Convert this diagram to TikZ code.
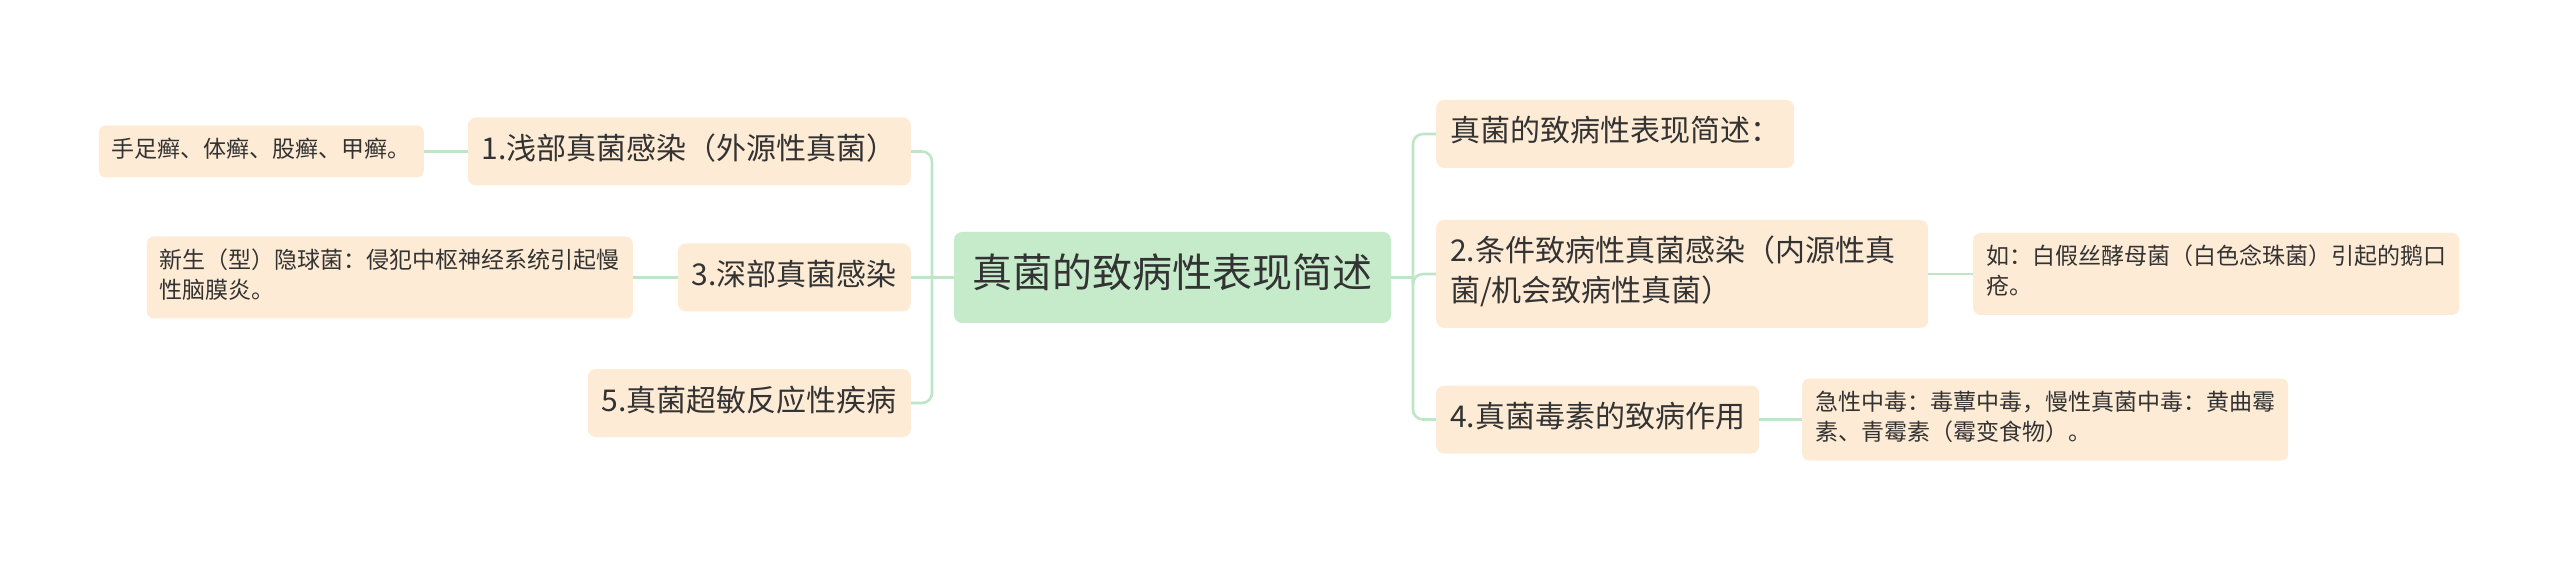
\documentclass[tikz,border=0pt]{standalone}
\usepackage{fontspec}
\setmainfont{Noto Sans CJK SC}
\definecolor{boxfill}{HTML}{FDEBD5}
\definecolor{rootfill}{HTML}{C6EBCB}
\definecolor{linecol}{HTML}{BEE6C6}
\definecolor{txt}{HTML}{333333}
\tikzset{
  rootbox/.style={fill=rootfill, rounded corners=8pt, inner xsep=18.5pt, inner ysep=19.5pt,
    font=\fontsize{40}{52}\selectfont, text=txt},
  midbox/.style={fill=boxfill, rounded corners=8pt, inner xsep=14pt, inner ysep=14pt,
    font=\fontsize{30}{40}\selectfont, text=txt, align=left},
  leafbox/.style={fill=boxfill, rounded corners=7pt, inner xsep=13pt, inner ysep=11pt,
    font=\fontsize{23}{30}\selectfont, text=txt, align=left},
  conn/.style={draw=linecol, line width=2.6pt, rounded corners=10pt}
}
\begin{document}
\begin{tikzpicture}[x=1pt,y=-1pt]
\useasboundingbox (0,0) rectangle (2560,561);
\node[rootbox] (root) at (1172.5,277.5) {\strut 真菌的致病性表现简述};
% left side
\node[midbox, anchor=east] (n1) at (911,151.5) {\strut 1.浅部真菌感染（外源性真菌）};
\node[midbox, anchor=east] (n3) at (911,277.5) {\strut 3.深部真菌感染};
\node[midbox, anchor=east] (n5) at (911,403) {\strut 5.真菌超敏反应性疾病};
\node[leafbox, anchor=east] (l1) at (424,151.5) {\strut 手足癣、体癣、股癣、甲癣。};
\node[leafbox, anchor=east] (l3) at (633,277.5) {\strut 新生（型）隐球菌：侵犯中枢神经系统引起慢\\\strut 性脑膜炎。};
% right side
\node[midbox, anchor=west] (r0) at (1436,134) {\strut 真菌的致病性表现简述：};
\node[midbox, anchor=west, text width=464pt] (r2) at (1436,274) {\strut 2.条件致病性真菌感染（内源性真\\\strut 菌/机会致病性真菌）};
\node[midbox, anchor=west] (r4) at (1436,419.5) {\strut 4.真菌毒素的致病作用};
\node[leafbox, anchor=west] (rl2) at (1973,274) {\strut 如：白假丝酵母菌（白色念珠菌）引起的鹅口\\\strut 疮。};
\node[leafbox, anchor=west] (rl4) at (1802,419.5) {\strut 急性中毒：毒蕈中毒，慢性真菌中毒：黄曲霉\\\strut 素、青霉素（霉变食物）。};
% trunks
\coordinate (lt) at (932,277.5);
\coordinate (rt) at (1413,277.5);
\draw[conn] (lt) -- (root.west);
\draw[conn] (root.east) -- (rt);
\draw[conn] (n1.east) -| (lt);
\draw[conn] (n3.east) -- (lt);
\draw[conn] (n5.east) -| (lt);
\draw[conn] (r0.west) -| (rt);
\draw[conn] (r2.west) -| (rt);
\draw[conn] (r4.west) -| (rt);
% leaves
\draw[conn] (l1.east) -- (n1.west);
\draw[conn] (l3.east) -- (n3.west);
\draw[conn] (r2.east) -- (rl2.west);
\draw[conn] (r4.east) -- (rl4.west);
\end{tikzpicture}
\end{document}
